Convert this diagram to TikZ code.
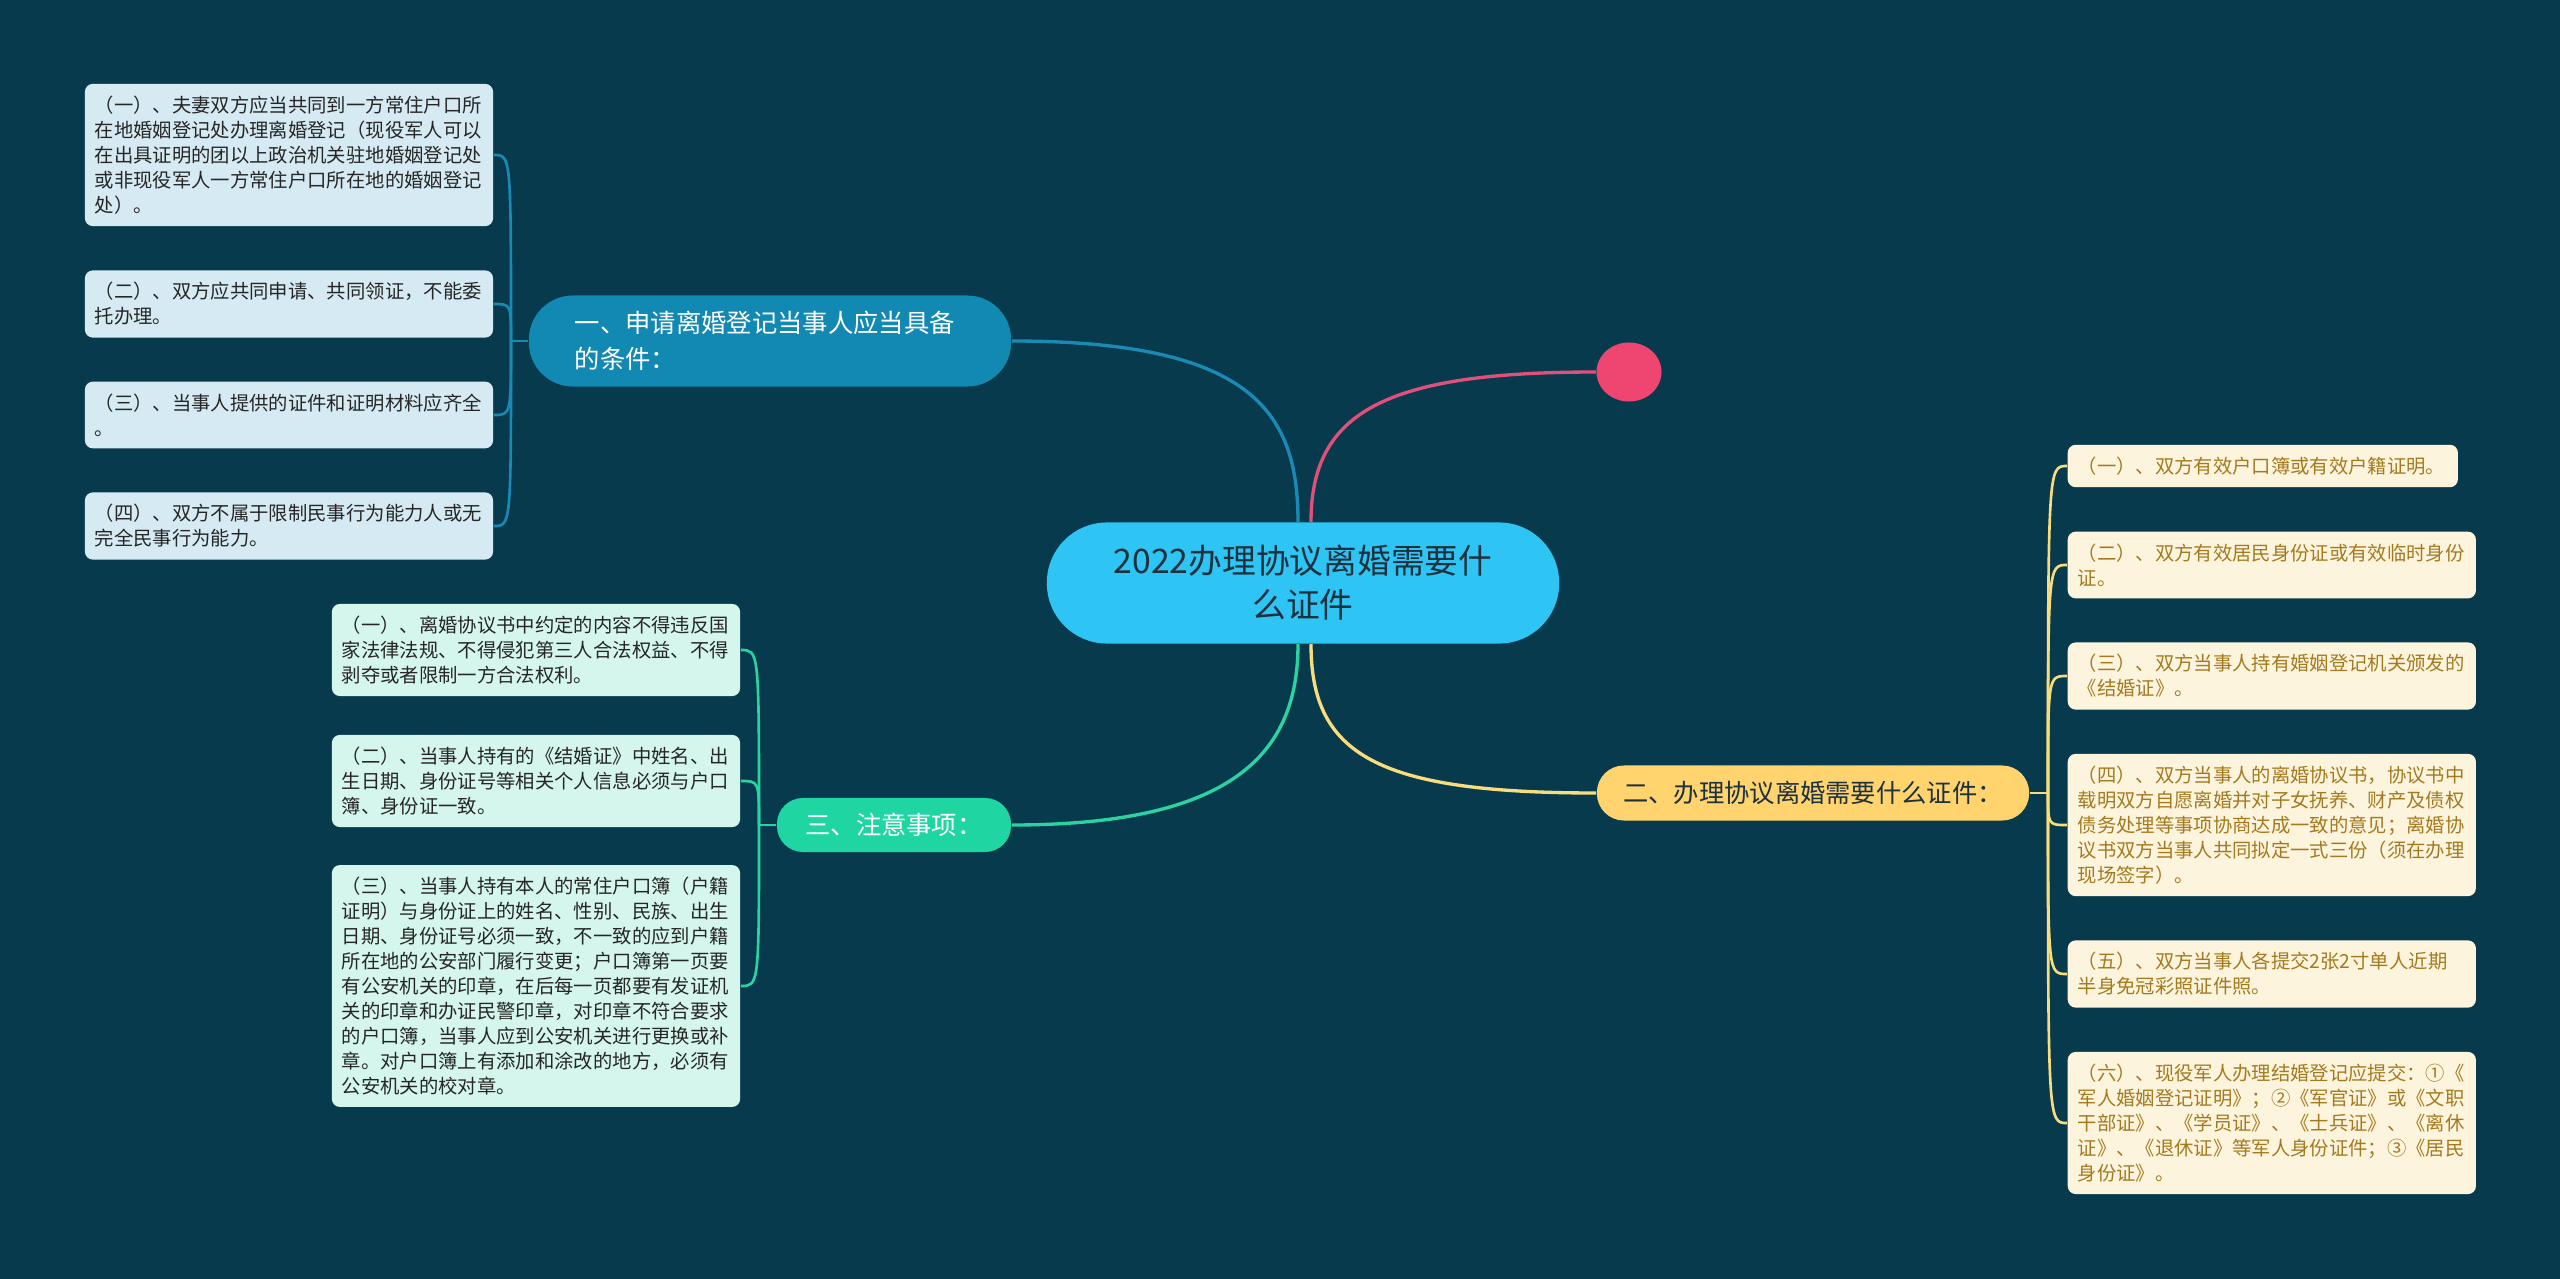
\documentclass[tikz,border=0pt]{standalone}
\usepackage{fontspec}
\setmainfont{Noto Sans CJK SC}
\usetikzlibrary{shapes.geometric}

\definecolor{bgnavy}{RGB}{8,58,77}
\definecolor{rootblue}{RGB}{46,196,244}
\definecolor{rootink}{RGB}{28,48,62}
\definecolor{seablue}{RGB}{18,137,178}
\definecolor{sealine}{RGB}{26,138,181}
\definecolor{seapale}{RGB}{213,234,242}
\definecolor{mintgreen}{RGB}{31,214,162}
\definecolor{mintline}{RGB}{42,211,162}
\definecolor{mintpale}{RGB}{212,246,236}
\definecolor{sunyellow}{RGB}{255,212,110}
\definecolor{sunline}{RGB}{248,221,126}
\definecolor{sunpale}{RGB}{253,244,221}
\definecolor{sunink}{RGB}{163,122,31}
\definecolor{rosepink}{RGB}{238,70,112}
\definecolor{roseline}{RGB}{224,80,122}

\begin{document}
\begin{tikzpicture}[x=0.01cm, y=-0.01cm,
    core/.style={rectangle, rounded corners=0.6cm, fill=rootblue, text=rootink, minimum width=5.12cm, minimum height=1.21cm, align=center, font=\fontsize{9.6pt}{12.5pt}\selectfont},
    topic/.style={rectangle, inner sep=0pt, font=\fontsize{7.2pt}{10.2pt}\selectfont},
    topicA/.style={topic, rounded corners=0.44cm, fill=seablue, text=white, text width=3.9cm, inner xsep=0.46cm, minimum height=0.91cm, align=left},
    topicB/.style={topic, rounded corners=0.27cm, fill=sunyellow, text=rootink, minimum width=4.32cm, minimum height=0.55cm, align=center},
    topicC/.style={topic, rounded corners=0.26cm, fill=mintgreen, text=white, minimum width=2.34cm, minimum height=0.54cm, align=center},
    dot/.style={ellipse, fill=rosepink, minimum width=0.65cm, minimum height=0.59cm, inner sep=0pt},
    leaf/.style={rectangle, rounded corners=0.08cm, inner xsep=0.1cm, inner ysep=0.12cm, text width=3.88cm, align=left, font=\fontsize{5.5pt}{7.1pt}\selectfont},
    leafA/.style={leaf, fill=seapale, text=black!85},
    leafC/.style={leaf, fill=mintpale, text=black!85},
    leafB/.style={leaf, fill=sunpale, text=sunink, anchor=west},
    edge/.style={line width=0.95pt},
    twig/.style={line width=0.75pt}]

  \fill[bgnavy] (0,0) rectangle (2560,1279);

  \node[core] (core) at (1303,583) {2022办理协议离婚需要什\\么证件};

  \node[topicA] (t1) at (770,341) {一、申请离婚登记当事人应当具备\\的条件：};
  \node[dot] (dot) at (1629,372) {};
  \node[topicB] (t2) at (1813,793) {二、办理协议离婚需要什么证件：};
  \node[topicC] (t3) at (894,825) {三、注意事项：};

  \coordinate (j1) at (511,341);
  \coordinate (j2) at (2048,793);
  \coordinate (j3) at (759,825);

  \node[leafA] (a1) at (289,155) {（一）、夫妻双方应当共同到一方常住户口所\\在地婚姻登记处办理离婚登记（现役军人可以\\在出具证明的团以上政治机关驻地婚姻登记处\\或非现役军人一方常住户口所在地的婚姻登记\\处）。};
  \node[leafA] (a2) at (289,304) {（二）、双方应共同申请、共同领证，不能委\\托办理。};
  \node[leafA] (a3) at (289,415) {（三）、当事人提供的证件和证明材料应齐全\\。};
  \node[leafA] (a4) at (289,526) {（四）、双方不属于限制民事行为能力人或无\\完全民事行为能力。};

  \node[leafC] (c1) at (536,650) {（一）、离婚协议书中约定的内容不得违反国\\家法律法规、不得侵犯第三人合法权益、不得\\剥夺或者限制一方合法权利。};
  \node[leafC] (c2) at (536,781) {（二）、当事人持有的《结婚证》中姓名、出\\生日期、身份证号等相关个人信息必须与户口\\簿、身份证一致。};
  \node[leafC] (c3) at (536,986) {（三）、当事人持有本人的常住户口簿（户籍\\证明）与身份证上的姓名、性别、民族、出生\\日期、身份证号必须一致，不一致的应到户籍\\所在地的公安部门履行变更；户口簿第一页要\\有公安机关的印章，在后每一页都要有发证机\\关的印章和办证民警印章，对印章不符合要求\\的户口簿，当事人应到公安机关进行更换或补\\章。对户口簿上有添加和涂改的地方，必须有\\公安机关的校对章。};

  \node[leafB, text width=3.7cm] (b1) at (2067,466) {（一）、双方有效户口簿或有效户籍证明。};
  \node[leafB] (b2) at (2067,565) {（二）、双方有效居民身份证或有效临时身份\\证。};
  \node[leafB] (b3) at (2067,676) {（三）、双方当事人持有婚姻登记机关颁发的\\《结婚证》。};
  \node[leafB] (b4) at (2067,825) {（四）、双方当事人的离婚协议书，协议书中\\载明双方自愿离婚并对子女抚养、财产及债权\\债务处理等事项协商达成一致的意见；离婚协\\议书双方当事人共同拟定一式三份（须在办理\\现场签字）。};
  \node[leafB] (b5) at (2067,974) {（五）、双方当事人各提交2张2寸单人近期\\半身免冠彩照证件照。};
  \node[leafB] (b6) at (2067,1123) {（六）、现役军人办理结婚登记应提交：①《\\军人婚姻登记证明》；②《军官证》或《文职\\干部证》、《学员证》、《士兵证》、《离休\\证》、《退休证》等军人身份证件；③《居民\\身份证》。};

  \draw[edge, sealine] (t1.east) .. controls +(240,0) and +(0,-110) .. ([xshift=-0.05cm]core.north);
  \draw[edge, roseline] ([xshift=0.08cm]core.north) .. controls +(0,-110) and +(-210,0) .. (dot.west);
  \draw[edge, mintline] ([xshift=-0.05cm]core.south) .. controls +(0,110) and +(220,0) .. (t3.east);
  \draw[edge, sunline] ([xshift=0.08cm]core.south) .. controls +(0,110) and +(-220,0) .. (t2.west);

  \draw[twig, sealine] (t1.west) -- (j1);
  \draw[twig, mintline] (t3.west) -- (j3);
  \draw[twig, sunline] (t2.east) -- (j2);
  \foreach \n in {a1,a2,a3,a4}
    \draw[twig, sealine] (j1) .. controls (j1 |- \n.east) .. (\n.east);
  \foreach \n in {c1,c2,c3}
    \draw[twig, mintline] (j3) .. controls (j3 |- \n.east) .. (\n.east);
  \foreach \n in {b1,b2,b3,b4,b5,b6}
    \draw[twig, sunline] (j2) .. controls (j2 |- \n.west) .. (\n.west);
\end{tikzpicture}
\end{document}
